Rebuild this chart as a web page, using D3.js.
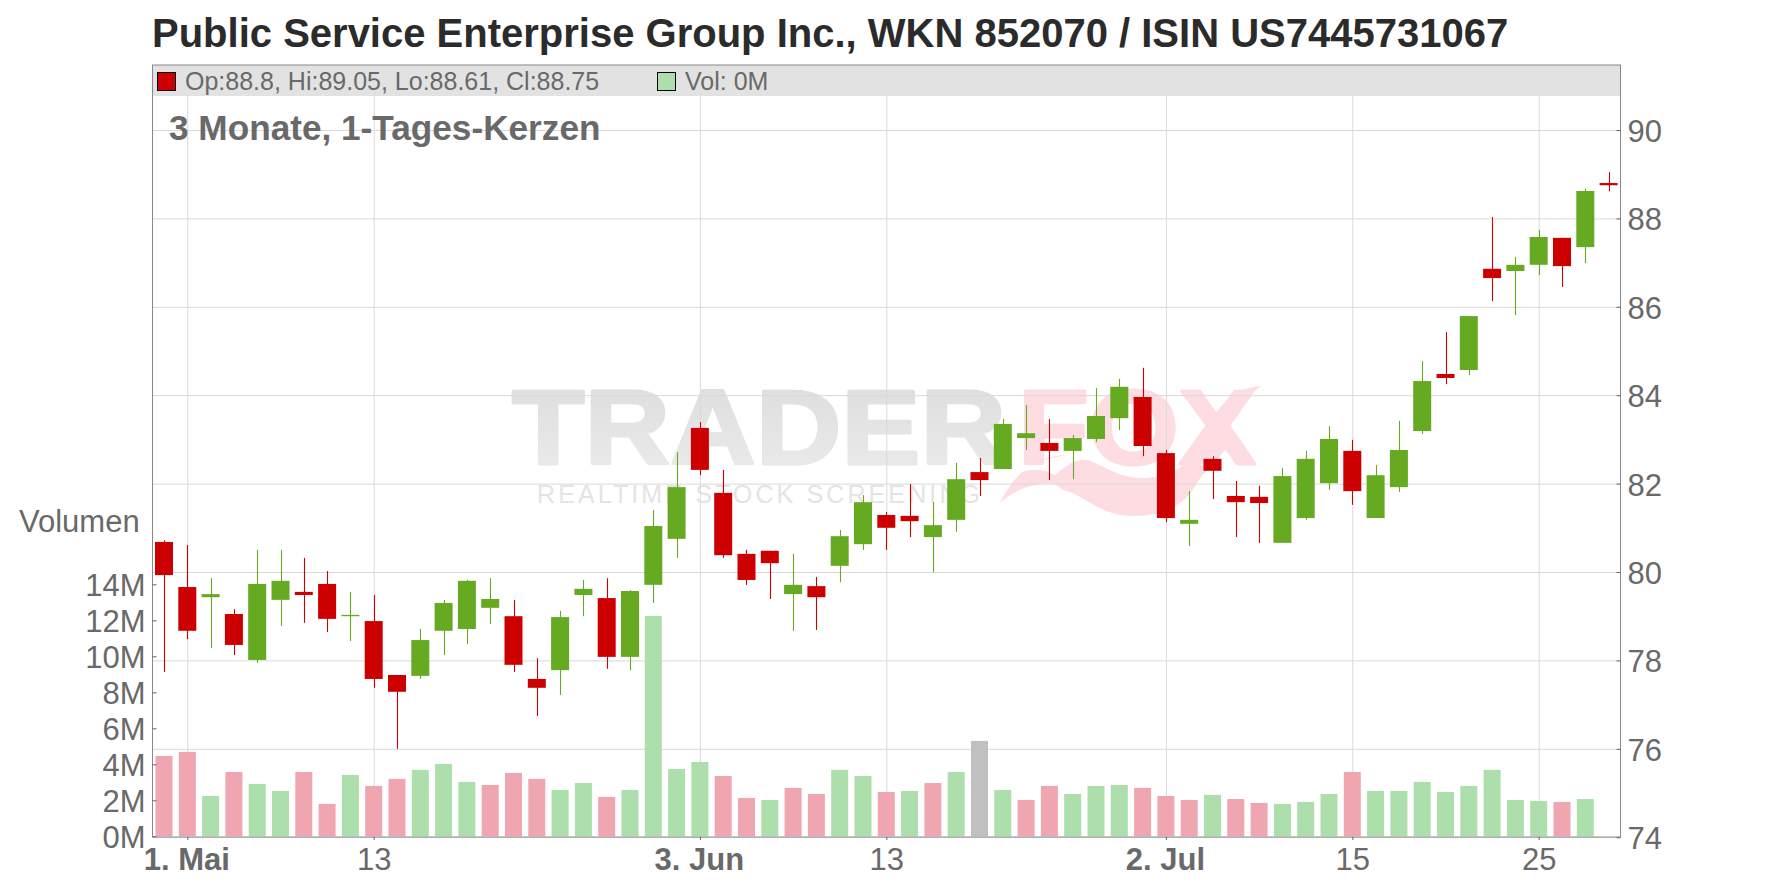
<!DOCTYPE html>
<html><head><meta charset="utf-8">
<script src="https://cdn.jsdelivr.net/npm/d3@7"></script>
<style>html,body{margin:0;padding:0;background:#fff}svg{display:block;font-family:"Liberation Sans",Arial,sans-serif}</style>
</head><body><svg id="c" width="1776" height="888"></svg>
<script>
const opens=[80.68,79.66,79.43,79.05,78.01,79.37,79.55,79.73,79.00,78.89,
77.67,77.65,78.67,78.71,79.19,79.00,77.58,77.78,79.48,79.41,
78.08,79.71,80.75,83.26,81.79,80.41,80.48,79.50,79.68,80.14,
80.63,81.29,81.27,80.79,81.18,82.26,82.33,83.03,82.92,82.74,
83.01,83.48,83.96,82.69,81.09,82.56,81.72,81.70,80.66,81.22,
82.01,82.74,81.22,81.92,83.19,84.48,84.57,86.86,86.81,86.95,
87.56,87.35,88.8];
const closes=[79.93,78.67,79.50,78.35,79.73,79.80,79.48,78.94,79.03,77.58,
77.29,78.46,79.30,79.80,79.39,77.90,77.38,78.98,79.62,78.08,
79.57,81.04,81.92,82.31,80.38,79.82,80.20,79.71,79.43,80.81,
81.58,81.00,81.15,81.06,82.10,82.08,83.35,83.14,82.74,83.03,
83.53,84.19,82.85,81.22,81.18,82.29,81.58,81.56,82.17,82.56,
83.01,81.83,82.19,82.76,84.32,84.39,85.79,86.65,86.95,87.58,
86.92,88.62,88.75];
const highs=[80.72,80.61,79.86,79.16,80.50,80.50,80.32,80.02,79.55,79.48,
77.67,78.71,79.37,79.82,79.86,79.37,78.05,79.12,79.82,79.86,
79.59,81.40,82.71,83.39,82.31,80.50,80.48,80.41,79.89,80.95,
81.74,81.36,81.99,81.58,82.47,82.58,83.46,83.78,83.46,83.10,
84.16,84.37,84.62,82.76,81.83,82.62,82.06,81.95,82.35,82.74,
83.30,82.99,82.42,83.42,84.77,85.43,85.79,88.03,87.13,87.74,
87.56,88.67,89.05];
const lows=[77.74,78.48,78.28,78.12,77.94,78.78,78.85,78.64,78.44,77.38,
76.00,77.58,78.12,78.37,78.82,77.74,76.74,77.22,79.00,77.81,
77.78,79.30,80.32,82.19,80.32,79.71,79.39,78.67,78.69,79.77,
80.50,80.50,80.79,80.00,80.91,81.72,82.33,82.76,82.08,82.10,
82.94,83.21,82.62,81.13,80.59,81.65,80.79,80.66,80.66,81.18,
81.86,81.52,81.22,81.81,83.12,84.25,84.46,86.13,85.81,86.72,
86.45,86.99,88.61];
const volumes=[4.46,4.69,2.24,3.57,2.91,2.52,3.57,1.80,3.41,2.80,3.19,3.69,4.02,3.02,2.85,3.52,3.19,2.57,2.96,2.19,2.57,12.24,
3.74,4.13,3.35,2.13,2.02,2.69,2.35,3.69,3.35,2.46,2.52,2.96,3.57,5.30,2.57,2.02,2.80,2.35,2.80,2.85,2.69,2.24,2.02,2.30,2.07,1.85,1.80,1.91,2.35,3.57,2.52,2.52,3.02,2.46,2.80,3.69,2.02,1.96,1.91,2.07,0];
const volumeDirs="dduduuddudduuuddduuduu"+"uuddudduududuxudd"+"uuu"+"ddd"+"u"+"dd"+"uuu"+"d"+"uuuuuuuu"+"d"+"u"+"d";
const dateTicks=[1,9,23,31,43,51,59];
const dateLabels=["1. Mai","13","3. Jun","13","2. Jul","15","25"];
const dateMajor=[true,false,true,false,true,false,false];
const priceTicks=[74,76,78,80,82,84,86,88,90];
const volumeTicks=[0,2,4,6,8,10,12,14];

const titleText="Public Service Enterprise Group Inc., WKN 852070 / ISIN US7445731067";
const subtitleText="3 Monate, 1-Tages-Kerzen";
const legendPrice="Op:88.8, Hi:89.05, Lo:88.61, Cl:88.75";
const legendVolume="Vol: 0M";

const L=152.5,R=1620.5,T=65,B=837;
const colUp="#66aa22",colDown="#cc0000",volCol={u:"#addfad",d:"#efa6b0",x:"#c0c0c0"};
const textCol="#696969";
const svg=d3.select("#c");
const x=d3.scaleLinear().domain([0,62]).range([164,1608.6]);
const yP=d3.scaleLinear().domain([74,90]).range([837.2,130]);
const yV=d3.scaleLinear().domain([0,14]).range([836.3,584.3]);

// watermark
const defs=svg.append("defs");
const g1=defs.append("linearGradient").attr("id","wm").attr("x1",0).attr("x2",0).attr("y1",0).attr("y2",1);
g1.append("stop").attr("offset",0).attr("stop-color","#dcdcdc");
g1.append("stop").attr("offset",1).attr("stop-color","#ececec");
const wm=svg.append("g").attr("font-weight","bold").attr("stroke-linejoin","round");
wm.append("text").attr("x",512).attr("y",464).attr("font-size",105).attr("textLength",494).attr("lengthAdjust","spacingAndGlyphs").attr("fill","url(#wm)").attr("stroke","url(#wm)").attr("stroke-width",3).text("TRADER");
wm.append("text").attr("x",1018).attr("y",464).attr("font-size",105).attr("textLength",238).attr("lengthAdjust","spacingAndGlyphs").attr("fill","#fddde1").attr("stroke","#fddde1").attr("stroke-width",3).text("FOX");
wm.append("text").attr("x",537).attr("y",503).attr("font-size",25).attr("font-weight","normal").attr("textLength",443).attr("fill","#e4e4e4").text("REALTIME STOCK SCREENING");
wm.append("path").attr("fill","#fddde1").attr("d","M1050,480 C1065,466 1075,458 1088,460 C1105,466 1118,478 1142,478 C1168,478 1186,468 1202,445 L1222,425 L1232,440 C1215,465 1205,470 1197,483 C1185,505 1165,516 1133,516 C1100,516 1085,495 1063,490 Z");
wm.append("path").attr("fill","#fddde1").attr("d","M1000,503 C1015,470 1040,455 1068,455 C1048,458 1030,464 1022,472 C1040,466 1055,472 1066,486 C1045,480 1020,485 1000,503 Z");
wm.append("path").attr("fill","#fddde1").attr("d","M1205,430 C1225,395 1240,388 1262,386 C1250,392 1240,405 1222,428 Z");

// grid
const gridP=svg.append("g").attr("transform",`translate(${R},0)`).call(d3.axisLeft(yP).tickValues(priceTicks).tickSize(R-L).tickFormat(""));
gridP.select(".domain").remove();
gridP.selectAll("line").attr("stroke","#d9d9d9");
const gridX=svg.append("g").attr("transform",`translate(0,${B})`).call(d3.axisTop(x).tickValues(dateTicks).tickSize(B-T).tickFormat(""));
gridX.select(".domain").remove();
gridX.selectAll("line").attr("stroke","#d9d9d9");

// legend band
svg.append("rect").attr("x",L).attr("y",T).attr("width",R-L).attr("height",31).attr("fill","#e0e0e0").attr("fill-opacity",.92);

// volume
const barW=17;
svg.append("g").selectAll("rect").data(volumes).join("rect")
 .attr("x",(d,i)=>x(i)-barW/2).attr("width",barW)
 .attr("y",d=>yV(d)).attr("height",d=>yV(0)-yV(d))
 .attr("fill",(d,i)=>volCol[volumeDirs[i]]);

// candles
const bodyW=18;
const cg=svg.append("g").selectAll("g").data(opens).join("g")
 .attr("fill",(d,i)=>closes[i]>=d?colUp:colDown).attr("stroke",(d,i)=>closes[i]>=d?colUp:colDown);
cg.append("line").attr("x1",(d,i)=>Math.round(x(i))+.5).attr("x2",(d,i)=>Math.round(x(i))+.5)
 .attr("y1",(d,i)=>yP(highs[i])).attr("y2",(d,i)=>yP(lows[i])).attr("stroke-width",1.1);
cg.append("rect").attr("stroke","none").attr("x",(d,i)=>x(i)-bodyW/2).attr("width",bodyW)
 .attr("y",(d,i)=>yP(Math.max(d,closes[i])))
 .attr("height",(d,i)=>Math.max(1,Math.abs(yP(d)-yP(closes[i]))));

// frame
svg.append("rect").attr("x",L).attr("y",T).attr("width",R-L).attr("height",B-T).attr("fill","none").attr("stroke","#888");

// axes
const axR=svg.append("g").attr("transform",`translate(${R},0)`).call(d3.axisLeft(yP).tickValues(priceTicks).tickSize(4).tickFormat(""));
axR.select(".domain").remove(); axR.selectAll("line").attr("stroke","#666");
const rl=svg.append("g").attr("transform",`translate(${R},0)`).call(d3.axisRight(yP).tickValues(priceTicks).tickSize(0).tickPadding(7));
rl.select(".domain").remove();
rl.selectAll("text").attr("font-size",31).attr("dy","0.37em").attr("font-family",'"Liberation Sans"').attr("fill",textCol);
const axL=svg.append("g").attr("transform",`translate(${L},0)`).call(d3.axisRight(yV).tickValues(volumeTicks).tickSize(4).tickFormat(""));
axL.select(".domain").remove(); axL.selectAll("line").attr("stroke","#666");
const ll=svg.append("g").attr("transform",`translate(${L},0)`).call(d3.axisLeft(yV).tickValues(volumeTicks).tickSize(0).tickPadding(7).tickFormat(d=>d+"M"));
ll.select(".domain").remove();
ll.selectAll("text").attr("font-size",31).attr("dy","0.37em").attr("font-family",'"Liberation Sans"').attr("fill",textCol);
const bt=svg.append("g").attr("transform",`translate(0,${B})`).call(d3.axisBottom(x).tickValues(dateTicks).tickSize(3).tickPadding(8).tickFormat((d,i)=>dateLabels[i]));
bt.select(".domain").remove(); bt.selectAll("line").attr("stroke","#666");
bt.selectAll("text").attr("font-size",31).attr("font-family",'"Liberation Sans"').attr("fill",textCol).attr("font-weight",(d,i)=>dateMajor[i]?"bold":"normal").attr("transform",(d,i)=>dateMajor[i]?"translate(-1,0)":null);

// text
svg.append("text").attr("x",152).attr("y",47).attr("font-size",40).attr("font-weight","bold").attr("fill","#2b2b2b").text(titleText);
svg.append("text").attr("x",169).attr("y",140).attr("font-size",35.2).attr("font-weight","bold").attr("fill",textCol).text(subtitleText);
svg.append("text").attr("x",19).attr("y",532).attr("font-size",31).attr("fill",textCol).text("Volumen");
svg.append("rect").attr("x",157.5).attr("y",72.5).attr("width",18).attr("height",18).attr("fill",colDown).attr("stroke","#000");
svg.append("text").attr("x",185).attr("y",90).attr("font-size",25).attr("fill",textCol).text(legendPrice);
svg.append("rect").attr("x",657.5).attr("y",72.5).attr("width",18).attr("height",18).attr("fill",volCol.u).attr("stroke","#000");
svg.append("text").attr("x",685).attr("y",90).attr("font-size",25).attr("fill",textCol).text(legendVolume);
</script></body></html>
